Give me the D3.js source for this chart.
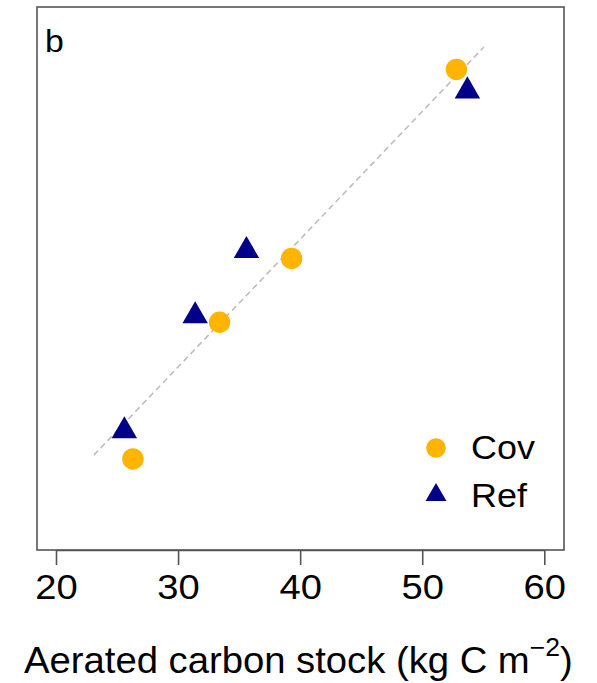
<!DOCTYPE html>
<html>
<head>
<meta charset="utf-8">
<script src="https://cdn.jsdelivr.net/npm/d3@7"></script>
<style>
  body { margin: 0; background: #fff; }
  text { font-family: "Liberation Sans", Arial, sans-serif; fill: #000; }
</style>
</head>
<body>
<svg id="chart" width="597" height="683"></svg>
<script>
// data
const series = ["Cov", "Ref"];
const covX = [26.3, 33.4, 39.3, 52.8];
const covY = [22.8, 33.5, 38.5, 53.3];
const refX = [25.6, 31.4, 35.6, 53.7];
const refY = [25.0, 34.0, 39.1, 51.6];
const fitX = [23.1, 55.05];
const fitY = [23.1, 55.05];
const xTicks = [20, 30, 40, 50, 60];

const colors = { Cov: "#FFB400", Ref: "#00008B" };
const stretch = 1.09; // the reference type is a touch wider than Liberation Sans

const svg = d3.select("#chart");

const box = { left: 37, right: 564, top: 7, bottom: 550 };

const x = d3.scaleLinear().domain([20, 60]).range([56, 544.3]);
const y = d3.scaleLinear().domain([15.67, 58.18]).range([550, 7]);

// frame
svg.append("rect")
    .attr("x", box.left)
    .attr("y", box.top)
    .attr("width", box.right - box.left)
    .attr("height", box.bottom - box.top)
    .attr("fill", "none")
    .attr("stroke", "#555")
    .attr("stroke-width", 1.6);

// x axis
const xAxis = d3.axisBottom(x)
    .tickValues(xTicks)
    .tickSizeInner(15)
    .tickSizeOuter(0)
    .tickPadding(9);

const gx = svg.append("g")
    .attr("transform", `translate(0,${box.bottom})`)
    .call(xAxis);
gx.select(".domain").attr("stroke", "#555").attr("stroke-width", 1.6);
gx.selectAll(".tick line").attr("stroke", "#555").attr("stroke-width", 1.6);
gx.selectAll(".tick text")
    .attr("font-size", 35)
    .attr("font-family", "Liberation Sans, Arial, sans-serif")
    .attr("fill", "#000")
    .attr("transform", `scale(${stretch},1)`);

// axis title, stretched to the reference width
const title = svg.append("text")
    .attr("x", 0)
    .attr("y", 0)
    .attr("font-size", 36);
title.append("tspan").text("Aerated carbon stock (kg C m");
title.append("tspan").attr("dy", -17).attr("font-size", 25).text("\u22122");
title.append("tspan").attr("dy", 17).text(")");
const tw = title.node().getBBox().width;
title.attr("transform", `translate(24,673) scale(${549 / tw},1)`);

// panel letter
svg.append("text")
    .attr("transform", `translate(45,52) scale(${stretch},1)`)
    .attr("font-size", 31)
    .text("b");

// fitted line
const line = d3.line().x(d => x(d[0])).y(d => y(d[1]));
svg.append("path")
    .datum(d3.zip(fitX, fitY))
    .attr("d", line)
    .attr("fill", "none")
    .attr("stroke", "#bdbdbd")
    .attr("stroke-width", 1.6)
    .attr("stroke-dasharray", "6,4");

// points
svg.append("g").selectAll("circle")
    .data(d3.zip(covX, covY))
    .join("circle")
    .attr("cx", d => x(d[0]))
    .attr("cy", d => y(d[1]))
    .attr("r", 10.7)
    .attr("fill", colors.Cov);

const tri = d3.symbol().type(d3.symbolTriangle).size(280);
svg.append("g").selectAll("path")
    .data(d3.zip(refX, refY))
    .join("path")
    .attr("d", tri)
    .attr("transform", d => `translate(${x(d[0])},${y(d[1])})`)
    .attr("fill", colors.Ref);

// legend
const legend = svg.append("g").attr("transform", "translate(436,448)");
series.forEach((s, i) => {
    const g = legend.append("g").attr("transform", `translate(0,${i * 48})`);
    if (s === "Cov") {
        g.append("circle").attr("r", 9.8).attr("fill", colors[s]);
    } else {
        g.append("path")
            .attr("d", d3.symbol().type(d3.symbolTriangle).size(190))
            .attr("transform", "translate(0,-1)")
            .attr("fill", colors[s]);
    }
    g.append("text")
        .attr("transform", `translate(35,11) scale(${stretch},1)`)
        .attr("font-size", 33)
        .text(s);
});
</script>
</body>
</html>
